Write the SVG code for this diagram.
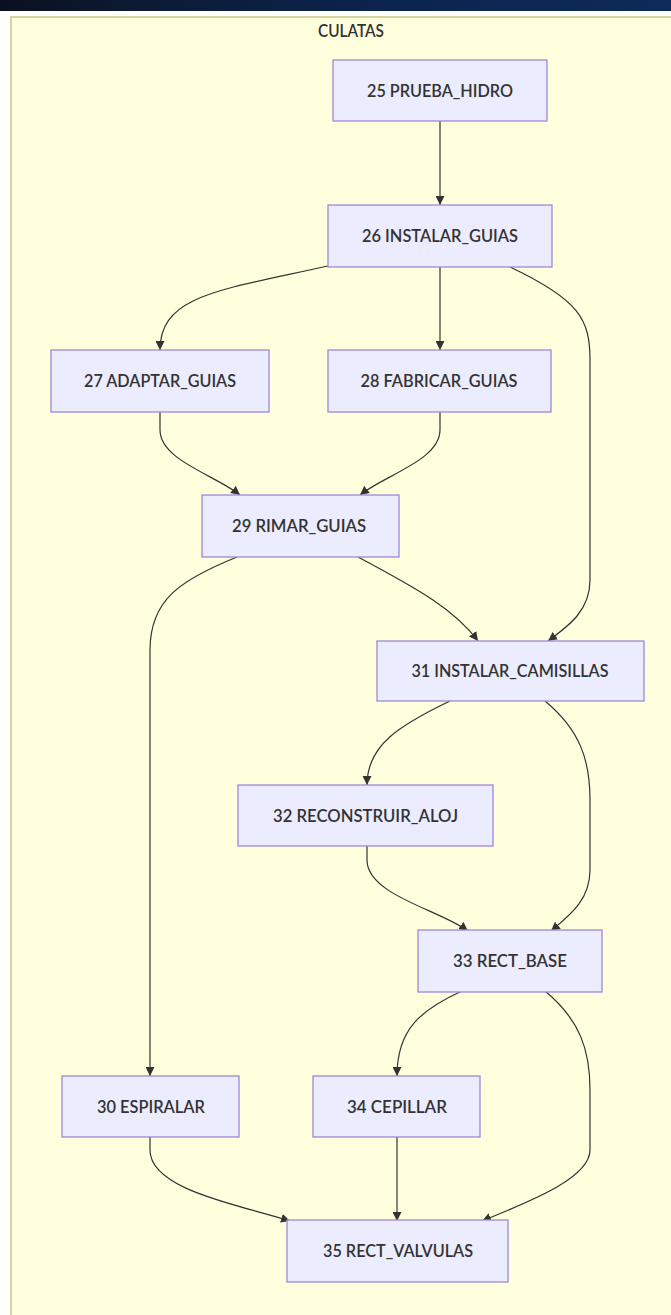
<svg xmlns="http://www.w3.org/2000/svg" width="671" height="1315" viewBox="0 0 671 1315">
<defs>
<linearGradient id="bar" x1="0" y1="0" x2="1" y2="0">
<stop offset="0" stop-color="#0b1020"/>
<stop offset="0.2" stop-color="#0c1a33"/>
<stop offset="0.6" stop-color="#0b2550"/>
<stop offset="1" stop-color="#0e2a58"/>
</linearGradient>
<marker id="arr" viewBox="0 0 10 10" refX="10" refY="5" markerWidth="9" markerHeight="9" markerUnits="userSpaceOnUse" orient="auto">
<path d="M0,0 L10,5 L0,10 z" fill="#333333"/>
</marker>
<style>
.node rect{fill:#ECECFF;stroke:#9d88d8;stroke-width:1.3}
text{font-family:Lato,"Liberation Sans",Arial,sans-serif;font-size:17px;font-weight:600;fill:#333333;text-anchor:middle}
.edges path{fill:none;stroke:#333333;stroke-width:1.2;marker-end:url(#arr)}
</style>
</defs>
<rect x="0" y="0" width="671" height="1315" fill="#ffffff"/>
<rect x="0" y="0" width="671" height="11" fill="url(#bar)"/>
<g id="cluster-CULATAS">
<rect x="11" y="17" width="680" height="1320" fill="#ffffde" stroke="#d4d4a2" stroke-width="2"/>
<text x="351" y="37" textLength="66" lengthAdjust="spacingAndGlyphs">CULATAS</text>
</g>
<g class="edges" id="edges">
<path d="M440,121 L440,205"/>
<path d="M328,266 C220,290 160,295 160,350"/>
<path d="M440,267 L440,350"/>
<path d="M510,267 C580,300 590,320 590,360 L590,580 C590,610 570,625 548,641"/>
<path d="M160,412 L160,430 C160,460 215,475 240,495"/>
<path d="M440,412 L440,430 C440,460 385,475 360,495"/>
<path d="M237,557 C180,580 150,600 150,650 L150,1076"/>
<path d="M358,557 C420,590 455,610 478,641"/>
<path d="M450,701 C400,725 367,745 367,785"/>
<path d="M545,701 C580,730 590,760 590,800 L590,870 C590,900 570,915 551,931"/>
<path d="M367,846 L367,860 C367,895 440,910 468,931"/>
<path d="M462,991 C420,1010 397,1030 397,1076"/>
<path d="M545,991 C580,1020 590,1050 590,1090 L590,1150 C590,1180 520,1205 482,1221"/>
<path d="M150,1136 L150,1150 C150,1190 240,1205 290,1221"/>
<path d="M397,1136 L397,1221"/>
</g>
<g class="node" id="n25"><rect x="333" y="60" width="214" height="61"/><text x="440" y="96.5" textLength="146" lengthAdjust="spacingAndGlyphs">25 PRUEBA_HIDRO</text></g>
<g class="node" id="n26"><rect x="328" y="205" width="224" height="62"/><text x="440" y="242" textLength="156" lengthAdjust="spacingAndGlyphs">26 INSTALAR_GUIAS</text></g>
<g class="node" id="n27"><rect x="51" y="350" width="218" height="62"/><text x="160" y="387" textLength="152" lengthAdjust="spacingAndGlyphs">27 ADAPTAR_GUIAS</text></g>
<g class="node" id="n28"><rect x="328" y="350" width="223" height="62"/><text x="439" y="387" textLength="157" lengthAdjust="spacingAndGlyphs">28 FABRICAR_GUIAS</text></g>
<g class="node" id="n29"><rect x="202" y="495" width="197" height="62"/><text x="299" y="532" textLength="134" lengthAdjust="spacingAndGlyphs">29 RIMAR_GUIAS</text></g>
<g class="node" id="n31"><rect x="377" y="641" width="267" height="60"/><text x="510" y="677" textLength="197" lengthAdjust="spacingAndGlyphs">31 INSTALAR_CAMISILLAS</text></g>
<g class="node" id="n32"><rect x="238" y="785" width="255" height="61"/><text x="365.5" y="821.5" textLength="185" lengthAdjust="spacingAndGlyphs">32 RECONSTRUIR_ALOJ</text></g>
<g class="node" id="n33"><rect x="418" y="930" width="184" height="62"/><text x="510" y="967" textLength="114" lengthAdjust="spacingAndGlyphs">33 RECT_BASE</text></g>
<g class="node" id="n30"><rect x="62" y="1076" width="177" height="61"/><text x="151" y="1112.5" textLength="108" lengthAdjust="spacingAndGlyphs">30 ESPIRALAR</text></g>
<g class="node" id="n34"><rect x="313" y="1076" width="167" height="61"/><text x="397" y="1112.5" textLength="100" lengthAdjust="spacingAndGlyphs">34 CEPILLAR</text></g>
<g class="node" id="n35"><rect x="287" y="1220" width="221" height="62"/><text x="398" y="1257" textLength="150" lengthAdjust="spacingAndGlyphs">35 RECT_VALVULAS</text></g>
</svg>
